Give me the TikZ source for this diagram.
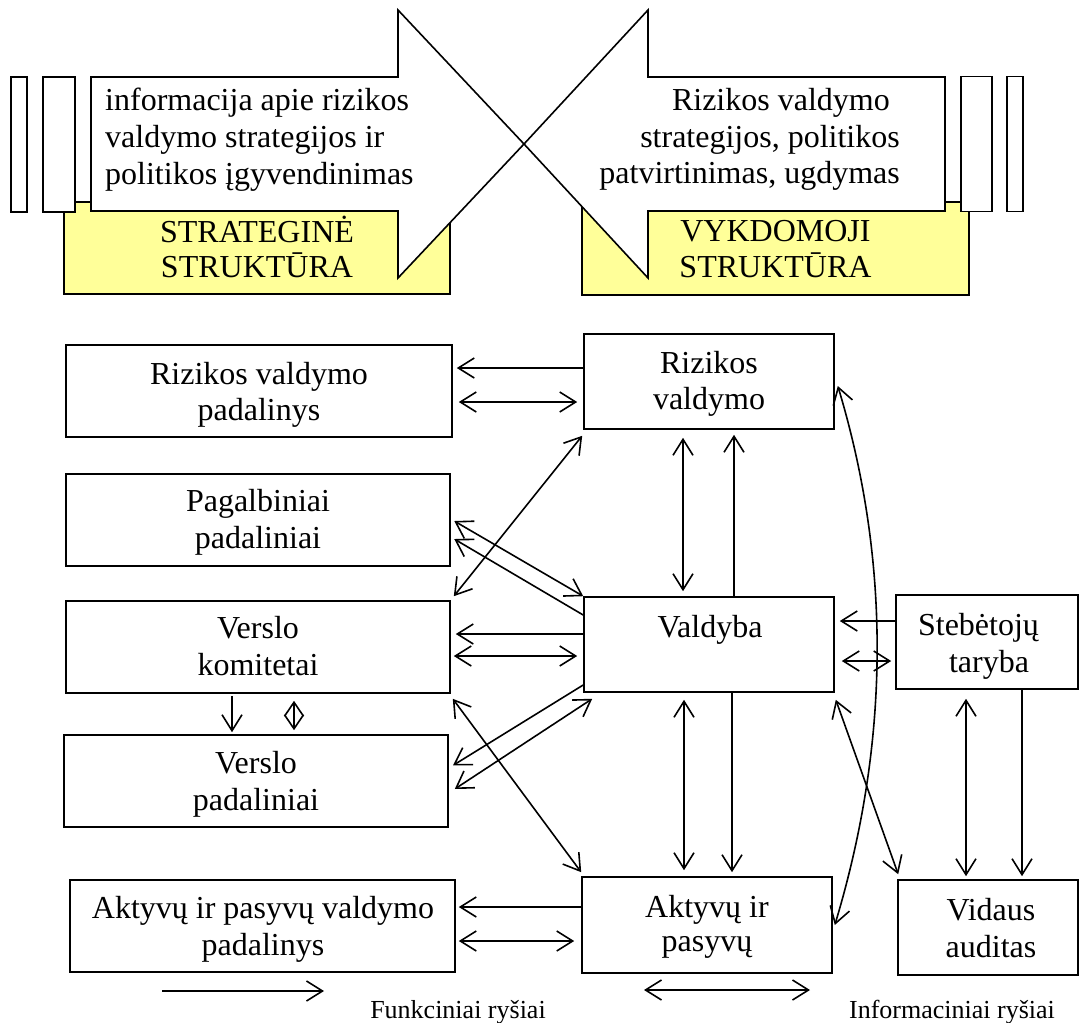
\documentclass[tikz,border=0pt]{standalone}
\usepackage{fontspec}
\setmainfont{Liberation Serif}
\usetikzlibrary{arrows.meta,calc}
\definecolor{paleyellow}{RGB}{255,255,153}
\begin{document}
\begin{tikzpicture}[x=1pt,y=-1pt,
  box/.style={draw,line width=1.6pt,fill=white,inner sep=0pt},
  ybox/.style={draw,line width=1.4pt,fill=paleyellow,inner sep=0pt},
  lbl/.style={font=\fontsize{32}{36}\selectfont,inner sep=0pt,anchor=base},
  leg/.style={font=\fontsize{26}{30}\selectfont,inner sep=0pt,anchor=base},
  conn/.style={line width=1.6pt},
  >={Straight Barb[length=16pt,width=20pt]}]
\useasboundingbox (0,0) rectangle (1080,1023);

% ---------- top part ----------
\node[ybox,minimum width=386pt,minimum height=92pt] (yl) at (257,248) {};
\node[ybox,minimum width=387pt,minimum height=93pt] (yr) at (775.5,248.5) {};
\node[box,minimum width=16pt,minimum height=135pt] (lr1) at (19,144.5) {};
\node[box,minimum width=32pt,minimum height=135pt] (lr2) at (59,144.5) {};
\node[box,minimum width=31pt,minimum height=135pt] (rr1) at (976.5,144) {};
\node[box,minimum width=16pt,minimum height=135pt] (rr2) at (1015,144) {};
\draw[line width=1.6pt,fill=white,line join=miter]
  (91,77) -- (398,77) -- (398,10) -- (524,144) -- (398,278) -- (398,211) -- (91,211) -- cycle;
\draw[line width=1.6pt,fill=white,line join=miter]
  (945,77) -- (648,77) -- (648,10) -- (524,144) -- (648,278) -- (648,211) -- (945,211) -- cycle;

\node[lbl,anchor=base west] (la1) at (105,110) {informacija apie rizikos};
\node[lbl,anchor=base west] (la2) at (105,147) {valdymo strategijos ir};
\node[lbl,anchor=base west] (la3) at (105,184) {politikos įgyvendinimas};
\node[lbl,anchor=base east] (ra1) at (890,110) {Rizikos valdymo};
\node[lbl,anchor=base east] (ra2) at (900,147) {strategijos, politikos};
\node[lbl,anchor=base east] (ra3) at (900,183) {patvirtinimas, ugdymas};
\node[lbl] (yl1) at (257,242) {STRATEGINĖ};
\node[lbl] (yl2) at (257,277) {STRUKTŪRA};
\node[lbl] (yr1) at (775.5,241) {VYKDOMOJI};
\node[lbl] (yr2) at (775.5,277) {STRUKTŪRA};

% ---------- boxes ----------
\node[box,minimum width=386pt,minimum height=92pt] (rvp) at (259,391) {};
\node[box,minimum width=384pt,minimum height=92pt] (pp) at (258,520) {};
\node[box,minimum width=384pt,minimum height=92pt] (vk) at (258,647) {};
\node[box,minimum width=384pt,minimum height=92pt] (vp) at (256,781) {};
\node[box,minimum width=250pt,minimum height=95pt] (rv) at (709,381.5) {};
\node[box,minimum width=250pt,minimum height=95pt] (vb) at (709,644.5) {};
\node[box,minimum width=182pt,minimum height=94pt] (st) at (987,642) {};
\node[box,minimum width=250pt,minimum height=96pt] (ap) at (707,925) {};
\node[box,minimum width=180pt,minimum height=95pt] (va) at (988,927.5) {};
\node[box,minimum width=385pt,minimum height=92pt] (apvp) at (262.5,926) {};

\node[lbl] (t1a) at (259,384) {Rizikos valdymo};
\node[lbl] (t1b) at (259,420) {padalinys};
\node[lbl] (t2a) at (258,511) {Pagalbiniai};
\node[lbl] (t2b) at (258,548) {padaliniai};
\node[lbl] (t3a) at (258,638) {Verslo};
\node[lbl] (t3b) at (258,675) {komitetai};
\node[lbl] (t4a) at (256,773) {Verslo};
\node[lbl] (t4b) at (256,810) {padaliniai};
\node[lbl] (t5a) at (709,373) {Rizikos};
\node[lbl] (t5b) at (709,409) {valdymo};
\node[lbl] (t6a) at (710,637) {Valdyba};
\node[lbl] (t7a) at (978.5,635) {Stebėtojų};
\node[lbl] (t7b) at (989,672) {taryba};
\node[lbl] (t8a) at (707,917) {Aktyvų ir};
\node[lbl] (t8b) at (707,951) {pasyvų};
\node[lbl] (t9a) at (991,920) {Vidaus};
\node[lbl] (t9b) at (991,957) {auditas};
\node[lbl] (t10a) at (263,918) {Aktyvų ir pasyvų valdymo};
\node[lbl] (t10b) at (263,955) {padalinys};

% ---------- connectors ----------
\draw[conn,->,shorten >=4pt] (rv.west |- 0,368) -- (rvp.east |- 0,368);
\draw[conn,<->,shorten <=6pt,shorten >=6pt] (rvp.east |- 0,402) -- (rv.west |- 0,402);
\draw[conn,<->] ($(rv.south west)+(-1,6)$) -- ($(vk.north east)+(3,-4)$);
\draw[conn,<->,shorten >=4pt] (vb.north west) -- (pp.east |- 0,519);
\draw[conn,->,shorten >=4pt] (vb.west |- 0,615) -- (pp.east |- 0,537);
\draw[conn,->,shorten >=5pt] (vb.west |- 0,634) -- (vk.east |- 0,634);
\draw[conn,<->,shorten <=3pt,shorten >=6pt] (vk.east |- 0,656) -- (vb.west |- 0,656);
\draw[conn,->,shorten >=5pt] (vb.west |- 0,685) -- (vp.east |- 0,768);
\draw[conn,<->] ($(vp.east |- 0,789)+(6,0)$) -- ($(vb.south west)+(9,6)$);
\draw[conn,<->] ($(vk.south east)+(2,5)$) -- ($(ap.north west)+(0,-4)$);
\draw[conn,<->,shorten <=8pt,shorten >=5pt] (rv.south -| 683,0) -- (vb.north -| 683,0);
\draw[conn,->,shorten >=5pt] (vb.north -| 734,0) -- (rv.south -| 734,0);
\draw[conn,<->,shorten <=7pt,shorten >=6pt] (vb.south -| 684,0) -- (ap.north -| 684,0);
\draw[conn,->,shorten >=4pt] (vb.south -| 732,0) -- (ap.north -| 732,0);
\draw[conn,<->] ($(vb.south east)+(1,7)$) -- ($(va.north west)+(1,-5)$);
\draw[conn,<->] ($(ap.east)+(2,0)$) .. controls (889,745) and (892,566) .. ($(rv.east)+(3,4.5)$);
\draw[conn,->,shorten >=5pt] (st.west |- 0,621) -- (vb.east |- 0,621);
\draw[conn,<->,shorten <=7pt,shorten >=4pt] (vb.east |- 0,661) -- (st.west |- 0,661);
\draw[conn,<->,shorten <=9pt,shorten >=3pt] (st.south -| 966,0) -- (va.north -| 966,0);
\draw[conn,->,shorten >=3pt] (st.south -| 1022,0) -- (va.north -| 1022,0);
\draw[conn,->,shorten >=3pt] (ap.west |- 0,907) -- (apvp.east |- 0,907);
\draw[conn,<->,shorten <=3pt,shorten >=7pt] (apvp.east |- 0,941) -- (ap.west |- 0,941);
\draw[conn,->,shorten <=2pt,shorten >=2pt] (vk.south -| 232,0) -- (vp.north -| 232,0);
\draw[conn,<->,>={Straight Barb[length=14pt,width=19pt]},shorten <=7pt,shorten >=4pt] (vk.south -| 294,0) -- (vp.north -| 294,0);

% ---------- legend ----------
\coordinate (f1) at (162,991);
\coordinate (f2) at (324,991);
\coordinate (i1) at (644,990);
\coordinate (i2) at (810,990);
\draw[conn,->] (f1) -- (f2);
\draw[conn,<->] (i1) -- (i2);
\node[leg] (lg1) at (458,1018) {Funkciniai ryšiai};
\node[leg] (lg2) at (952,1018) {Informaciniai ryšiai};
\end{tikzpicture}
\end{document}
